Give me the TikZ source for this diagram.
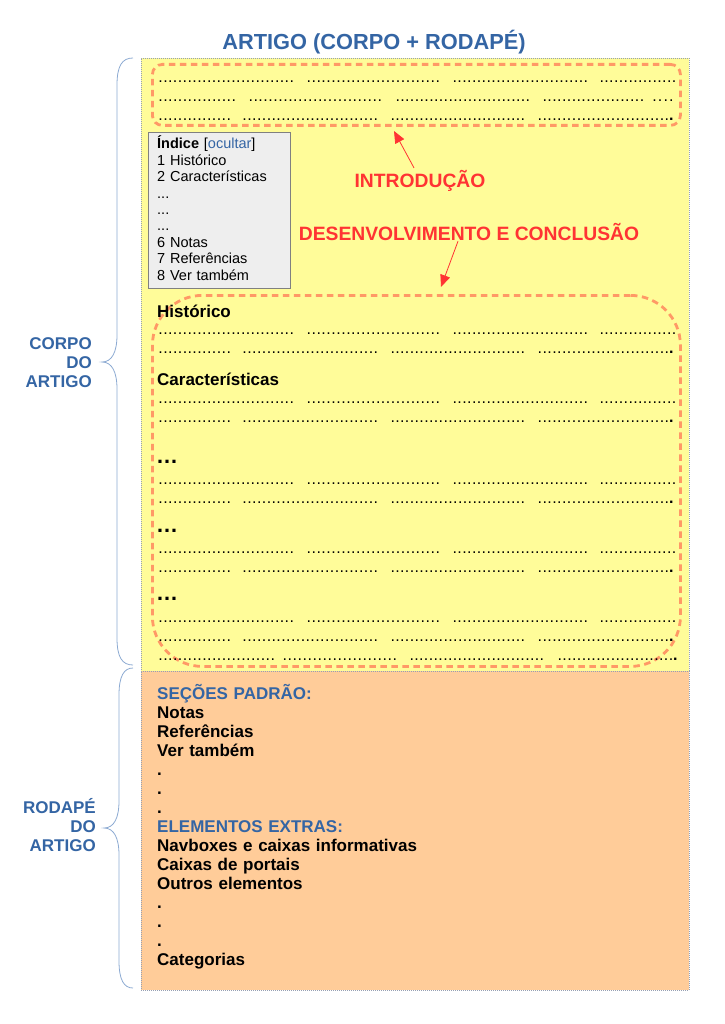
\documentclass[tikz,border=0pt]{standalone}
\usepackage{fontspec}
\setmainfont{Liberation Sans}
\usetikzlibrary{arrows.meta}

\definecolor{azul}{RGB}{52,101,164}
\definecolor{vermelho}{RGB}{255,51,51}
\definecolor{laranjaesc}{RGB}{255,153,102}
\definecolor{amarelo}{RGB}{255,252,153}
\definecolor{laranja}{RGB}{255,204,153}
\definecolor{cinzaclaro}{RGB}{238,238,238}
\definecolor{cinza}{RGB}{128,128,128}
\definecolor{borda}{RGB}{150,160,180}
\definecolor{chaveazul}{RGB}{140,170,210}

% linhas de texto pontilhado
\newcommand\pontos[1]{\hbox to #1pt{\xleaders\hbox to 4.8pt{\hss.\hss}\hfill}}
\newcommand\linhaA{\pontos{136}\hskip12pt\pontos{134}\hskip12pt\pontos{136}\hskip11pt\pontos{77}}
\newcommand\linhaB{\pontos{73}\hskip11pt\pontos{136}\hskip12pt\pontos{135}\hskip12pt\pontos{132}\textbf{.}}
\newcommand\linhaC{\pontos{117}\hskip7pt\pontos{115}\hskip12pt\pontos{135}\hskip13pt\pontos{116}\textbf{.}}
\newcommand\linhaD{\pontos{78}\hskip12pt\pontos{134}\hskip13pt\pontos{135}\hskip12pt\pontos{102}\hskip7pt\pontos{23}}

\begin{document}
\begin{tikzpicture}[x=1pt,y=-1pt,
  caixa/.style={draw=borda, dash pattern=on 1pt off 1pt, line width=0.6pt, inner sep=0pt, anchor=north west},
  regiao/.style={draw=laranjaesc, line width=2.8pt, dash pattern=on 6.5pt off 4.5pt, inner sep=0pt, anchor=north west},
  seta/.style={draw=vermelho, line width=0.8pt, -{Triangle[length=12pt,width=10pt]}},
  rotulo/.style={font=\fontsize{19.3}{22}\selectfont\bfseries, text=vermelho},
  lateral/.style={font=\fontsize{17}{19}\selectfont\bfseries, text=azul, align=right, text width=90pt, inner sep=0pt, anchor=base east},
  secao/.style={font=\fontsize{17}{19}\selectfont\bfseries, inner sep=0pt, anchor=base west},
  pontilhado/.style={font=\fontsize{16}{18}\selectfont, inner sep=0pt, anchor=base west},
  chave/.style={draw=chaveazul, line width=0.8pt}]
  \useasboundingbox (0,0) rectangle (724,1024);

  \node[font=\fontsize{21.8}{24}\selectfont\bfseries, text=azul] (titulo) at (374,42) {ARTIGO (CORPO + RODAP\'E)};

  % corpo e rodape
  \node[caixa, fill=amarelo, minimum width=548pt, minimum height=613pt] (corpo) at (141,58) {};
  \node[caixa, fill=laranja, minimum width=548pt, minimum height=319pt] (rodape) at (141,671) {};

  % introducao
  \node[regiao, rounded corners=10pt, minimum width=528pt, minimum height=61pt] (intro) at (151,63) {};
  \node[pontilhado] (intro1) at (158,82.5) {\linhaA};
  \node[pontilhado] (intro2) at (158,101.5) {\linhaD};
  \node[pontilhado] (intro3) at (158,120.5) {\linhaB};

  % indice
  \node[caixa, draw=cinza, solid, line width=0.8pt, fill=cinzaclaro, minimum width=142pt, minimum height=156pt] (indice) at (148,132) {};
  \node[font=\fontsize{14.5}{16.4}\selectfont, text width=130pt, align=left, inner sep=0pt, anchor=base west] (indicetxt) at (157,149)
    {\textbf{Índice} [{\color{azul}ocultar}]\\1 Histórico\\2 Características\\...\\...\\...\\6 Notas\\7 Referências\\8 Ver também};

  \node[rotulo] (introlbl) at (420,181) {INTRODUÇÃO};
  \node[rotulo] (desenvlbl) at (469,232) {DESENVOLVIMENTO E CONCLUSÃO};
  \coordinate (pontaintro) at (394,131);
  \coordinate (pontadesenv) at (441,287);
  \draw[seta] ([xshift=-6pt,yshift=-1pt]introlbl.north) -- (pontaintro);
  \draw[seta] ([xshift=-11pt,yshift=3pt]desenvlbl.south) -- (pontadesenv);

  % desenvolvimento
  \node[regiao, rounded corners=50pt, minimum width=528pt, minimum height=371pt] (desenv) at (151,294) {};
  \node[secao] (historico) at (157,317) {Histórico};
  \node[secao] (caracter) at (157,385) {Características};
  \node[secao, font=\fontsize{22}{24}\selectfont\bfseries] (etc1) at (156,463) {…};
  \node[secao, font=\fontsize{22}{24}\selectfont\bfseries] (etc2) at (156,532) {…};
  \node[secao, font=\fontsize{22}{24}\selectfont\bfseries] (etc3) at (156,600) {…};
  \foreach \y [count=\i] in {334.5,403.5,484.5,553.5,622.5} {
    \node[pontilhado] (par\i-a) at (158,\y) {\linhaA};
    \node[pontilhado] (par\i-b) at (158,\y+19) {\linhaB};
  }
  \node[pontilhado] (par5-c) at (158,660.5) {\linhaC};

  % secoes do rodape
  \node[secao, text width=400pt, align=left] (rodapetxt) at (157,699)
    {{\color{azul}SEÇÕES PADRÃO:}\\Notas\\Referências\\Ver também\\.\\.\\.\\{\color{azul}ELEMENTOS EXTRAS:}\\Navboxes e caixas informativas\\Caixas de portais\\Outros elementos\\.\\.\\.\\Categorias};

  % chaves laterais
  \draw[chave] (133,58) .. controls (122,58) and (117,66) .. (117,85) -- (117,335)
    .. controls (117,352) and (112,362) .. (102,362) .. controls (112,362) and (117,372) .. (117,389)
    -- (117,638) .. controls (117,657) and (122,665) .. (133,665);
  \draw[chave] (133,668) .. controls (124,668) and (119,676) .. (119,695) -- (119,801)
    .. controls (119,818) and (114,828) .. (104,828) .. controls (114,828) and (119,838) .. (119,855)
    -- (119,961) .. controls (119,980) and (124,988) .. (133,988);
  \node[lateral] (corpolbl) at (92,349) {CORPO\\DO\\ARTIGO};
  \node[lateral] (rodapelbl) at (96,813) {RODAPÉ\\DO\\ARTIGO};
\end{tikzpicture}
\end{document}
